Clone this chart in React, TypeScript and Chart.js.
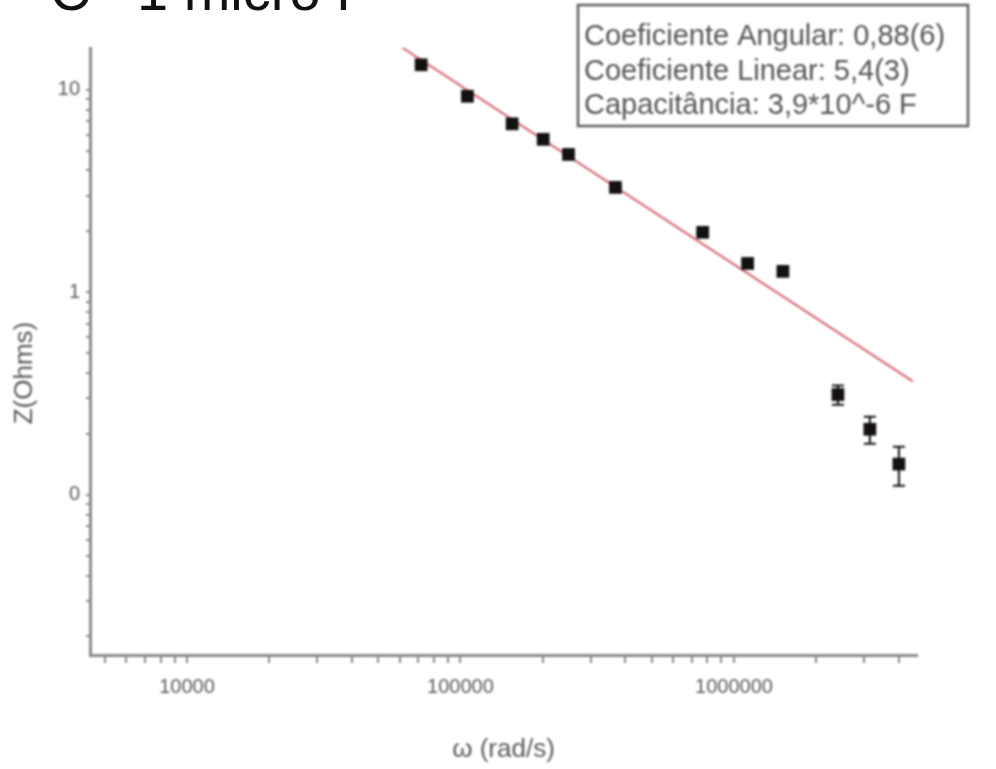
import React, { useEffect, useRef } from "react";
import { Chart, registerables } from "chart.js";

Chart.register(...registerables);

// ---- data ----
const omega = [71800, 106000, 154500, 200600, 248300, 368600, 768500, 1122000, 1510000, 2400000, 3140000, 4010000];
const impedance = [13.3, 9.3, 6.8, 5.7, 4.8, 3.3, 1.98, 1.39, 1.27, 0.313, 0.211, 0.142];
const impedanceErr = [0.03, 0.03, 0.03, 0.03, 0.03, 0.03, 0.03, 0.03, 0.03, 0.034, 0.032, 0.031];

const fitOmega = [60300, 4510000];
const fitImpedance = [16.4, 0.3635];

const xMajorTicks = [10000, 100000, 1000000];
const xTickLabels = ["10000", "100000", "1000000"];
const yMajorTicks = [0.1, 1, 10];
const yTickLabels = ["0", "1", "10"];

const xRange = [4418, 4670000];
const yRange = [0.0162, 16.1];

const infoLines = [
  "Coeficiente Angular: 0,88(6)",
  "Coeficiente Linear: 5,4(3)",
  "Capacitância: 3,9*10^-6 F",
];
const xTitle = "ω (rad/s)";
const yTitle = "Z(Ohms)";
const pageTitleLeft = "C";
const pageTitleRight = "1 micro F";

const FONT = "'Liberation Sans', Arial, sans-serif";
const GRAY = "#8a8a8a";
const TEXT = "#5a5a5a";

function logTicks(min: number, max: number, majors: number[]) {
  const out: { value: number; major: boolean }[] = [];
  const d0 = Math.floor(Math.log10(min));
  const d1 = Math.ceil(Math.log10(max));
  for (let d = d0; d <= d1; d++) {
    for (let m = 1; m <= 9; m++) {
      const v = m * Math.pow(10, d);
      if (v >= min && v <= max) {
        out.push({ value: v, major: majors.some((t) => Math.abs(t - v) / t < 1e-9) });
      }
    }
  }
  return out;
}

function labelFor(value: number, majors: number[], labels: string[]) {
  const i = majors.findIndex((t) => Math.abs(t - value) / t < 1e-9);
  return i >= 0 ? labels[i] : "";
}

const errorBarPlugin = {
  id: "errorBars",
  afterDatasetsDraw(chart: any) {
    const { ctx, scales } = chart;
    const xs = scales.x;
    const ys = scales.y;
    ctx.save();
    ctx.strokeStyle = "#111";
    ctx.lineWidth = 2;
    for (let i = 0; i < omega.length; i++) {
      const px = xs.getPixelForValue(omega[i]);
      const top = ys.getPixelForValue(impedance[i] + impedanceErr[i]);
      const bot = ys.getPixelForValue(impedance[i] - impedanceErr[i]);
      ctx.beginPath();
      ctx.moveTo(px, top);
      ctx.lineTo(px, bot);
      ctx.moveTo(px - 6, top);
      ctx.lineTo(px + 6, top);
      ctx.moveTo(px - 6, bot);
      ctx.lineTo(px + 6, bot);
      ctx.stroke();
    }
    ctx.restore();
  },
};

const annotationPlugin = {
  id: "annotations",
  afterDraw(chart: any) {
    const { ctx, chartArea } = chart;
    ctx.save();
    // info box
    const bx = 578, by = 5, bw = 390, bh = 121;
    ctx.fillStyle = "#fff";
    ctx.fillRect(bx, by, bw, bh);
    ctx.strokeStyle = "#5e5e5e";
    ctx.lineWidth = 2.5;
    ctx.strokeRect(bx, by, bw, bh);
    ctx.fillStyle = "#555";
    ctx.font = `29px ${FONT}`;
    ctx.textBaseline = "middle";
    ctx.textAlign = "left";
    const lineY = [37, 72, 106];
    infoLines.forEach((t, i) => ctx.fillText(t, bx + 6, lineY[i]));

    // axis titles
    ctx.fillStyle = TEXT;
    ctx.font = `26px ${FONT}`;
    ctx.textAlign = "center";
    ctx.textBaseline = "middle";
    ctx.fillText(xTitle, (chartArea.left + chartArea.right) / 2, 750);
    ctx.translate(25, 373);
    ctx.rotate(-Math.PI / 2);
    ctx.fillText(yTitle, 0, 0);
    ctx.restore();
  },
};

export default function App() {
  const canvasRef = useRef<HTMLCanvasElement | null>(null);

  useEffect(() => {
    if (!canvasRef.current) return;
    const chart = new Chart(canvasRef.current, {
      type: "scatter",
      data: {
        datasets: [
          {
            label: "Z",
            data: omega.map((x, i) => ({ x, y: impedance[i] })),
            pointStyle: "rect",
            pointRadius: 9,
            pointHoverRadius: 9,
            backgroundColor: "#141010",
            borderColor: "#141010",
            borderWidth: 0,
            showLine: false,
          },
          {
            label: "fit",
            data: fitOmega.map((x, i) => ({ x, y: fitImpedance[i] })),
            showLine: true,
            borderColor: "rgba(205,70,85,0.85)",
            borderWidth: 2,
            pointRadius: 0,
            pointHoverRadius: 0,
            fill: false,
          },
        ],
      },
      options: {
        responsive: false,
        animation: false,
        devicePixelRatio: 1,
        layout: { padding: { left: 0, top: 48, right: 79, bottom: 0 } },
        plugins: {
          legend: { display: false },
          tooltip: { enabled: false },
          title: { display: false },
        },
        scales: {
          x: {
            type: "logarithmic",
            position: "bottom",
            min: xRange[0],
            max: xRange[1],
            afterFit: (s: any) => {
              s.height = 114;
            },
            afterBuildTicks: (s: any) => {
              s.ticks = logTicks(xRange[0], xRange[1], xMajorTicks);
            },
            ticks: {
              autoSkip: false,
              maxRotation: 0,
              padding: 12,
              color: TEXT,
              font: { family: FONT, size: 20 },
              callback: (v: any) => labelFor(Number(v), xMajorTicks, xTickLabels),
            },
            grid: {
              display: true,
              drawOnChartArea: false,
              drawTicks: true,
              tickLength: 8,
              color: GRAY,
              lineWidth: 2,
            },
            border: { display: true, color: GRAY, width: 3 },
          },
          y: {
            type: "logarithmic",
            position: "left",
            min: yRange[0],
            max: yRange[1],
            afterFit: (s: any) => {
              s.width = 90;
            },
            afterBuildTicks: (s: any) => {
              s.ticks = logTicks(yRange[0], yRange[1], yMajorTicks);
            },
            ticks: {
              autoSkip: false,
              padding: 6,
              color: TEXT,
              font: { family: FONT, size: 20 },
              callback: (v: any) => labelFor(Number(v), yMajorTicks, yTickLabels),
            },
            grid: {
              display: true,
              drawOnChartArea: false,
              drawTicks: true,
              tickLength: 4,
              color: GRAY,
              lineWidth: 2,
            },
            border: { display: true, color: GRAY, width: 3 },
          },
        },
      },
      plugins: [errorBarPlugin, annotationPlugin],
    } as any);
    return () => chart.destroy();
  }, []);

  const titleStyle: React.CSSProperties = {
    position: "absolute",
    top: -37,
    fontFamily: FONT,
    fontSize: 56,
    lineHeight: "56px",
    color: "#111",
    whiteSpace: "pre",
  };

  return (
    <div style={{ position: "absolute", left: 0, top: 0, width: 996, height: 769, overflow: "hidden", background: "#fff" }}>
      <canvas
        ref={canvasRef}
        width={996}
        height={769}
        style={{ position: "absolute", left: 0, top: 0, width: 996, height: 769, filter: "blur(0.9px)" }}
      />
      <div style={{ ...titleStyle, left: 50 }}>{pageTitleLeft}</div>
      <div style={{ ...titleStyle, left: 137 }}>{pageTitleRight}</div>
    </div>
  );
}
